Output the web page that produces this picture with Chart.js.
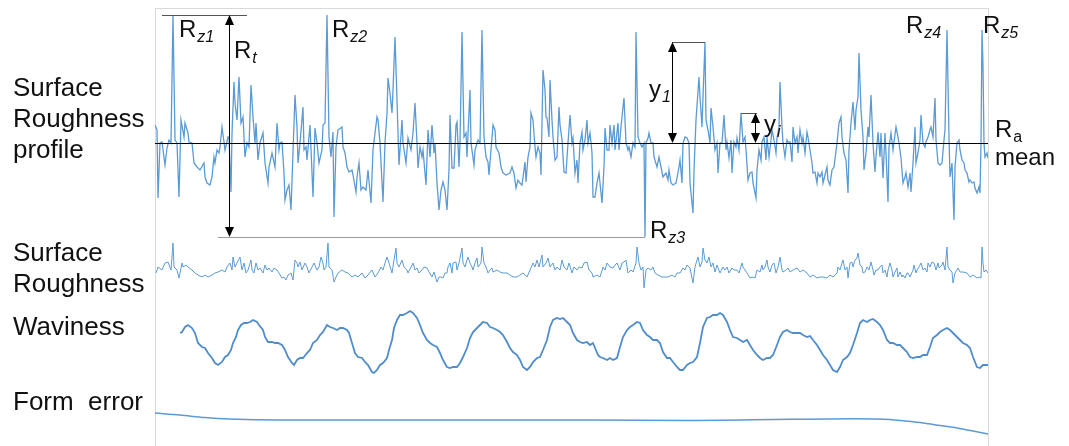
<!DOCTYPE html>
<html>
<head>
<meta charset="utf-8">
<script src="https://cdn.jsdelivr.net/npm/chart.js@4.4.1/dist/chart.umd.min.js"></script>
<style>
  html, body { margin: 0; padding: 0; background: #fff; }
  canvas { display: block; }
</style>
</head>
<body>
<canvas id="grafico" width="1069" height="446"></canvas>
<script>
// posicion a lo largo de la muestra (0..833) y altura respecto a la linea media
const perfilX = [0,2,3,5,7,10,12,14,16,18,20,22,24,26,29,30,33,34,37,39,42,45,49,50,52,55,57,59,60,62,64,65,67,69,70,73,74,76,77,79,80,82,84,86,88,90,92,94,96,98,100,101,103,105,108,110,113,114,117,120,122,124,125,127,129,130,132,134,136,
  140,142,143,145,148,149,151,152,155,158,160,162,164,167,168,170,172,174,176,178,179,181,183,187,188,190,192,194,197,198,201,202,204,206,208,211,213,216,218,220,222,223,225,228,230,232,233,235,237,238,240,242,244,247,248,251,253,256,258,260,262,263,265,267,268,271,273,
  275,277,279,280,282,284,286,288,290,292,294,295,297,299,301,302,304,305,307,309,311,312,315,316,319,320,323,325,327,329,331,333,334,336,338,340,341,344,346,348,351,355,357,359,361,363,365,367,370,371,373,375,376,378,380,381,383,385,386,388,390,391,392,394,395,397,398,400,402,404,405,407,409,411,413,415,
  417,418,420,422,423,425,427,428,430,432,433,435,437,438,440,442,444,445,447,449,450,452,454,455,457,459,460,463,464,466,468,469,471,473,474,476,478,480,481,483,485,487,489,490,491,493,494,496,498,499,502,504,506,508,511,513,514,516,518,521,524,525,527,528,530,532,534,535,538,539,541,544,545,547,548,550,551,553,
  555,556,558,560,562,563,565,567,569,571,572,574,576,577,579,581,582,584,586,588,590,591,593,595,597,598,601,602,604,606,607,609,611,612,614,616,617,619,621,622,624,625,627,628,630,632,633,635,637,638,640,642,643,645,647,648,650,652,653,655,657,658,660,662,663,665,667,668,670,672,673,675,677,679,682,684,686,687,
  689,691,693,694,696,698,700,701,703,704,706,708,709,711,713,714,716,718,720,721,723,725,726,728,730,731,733,734,736,738,739,741,743,744,746,748,750,751,753,755,756,758,760,761,763,765,766,768,770,771,773,775,776,778,780,781,783,785,787,789,790,792,794,795,797,799,800,802,804,805,807,809,810,812,814,815,817,819,820,822,824,825,826,827,828,829,830,832,833];
const perfilY = [18,13,-55,0,1,-22,-5,3,0,128,3,0,-54,23,6,20,10,1,0,-20,-24,-27,-20,-34,-40,-42,-34,-14,-20,-7,-10,-4,16,1,-7,6,6,-49,10,61,40,23,66,20,26,-14,0,-4,58,26,0,20,-17,0,10,-20,-40,-24,-10,-24,20,-7,0,1,-30,-57,-47,-42,-67,
  48,16,-20,0,36,-7,-4,-17,18,-54,15,0,-20,-7,18,20,128,6,-14,11,-74,-4,13,16,-4,-10,-24,-29,-27,-32,-49,-34,-20,-47,-44,-47,-27,-60,-7,10,26,23,0,-59,0,30,65,50,30,53,106,43,-22,23,0,-20,5,-7,10,40,0,-25,-4,-14,-7,-42,13,
  -14,18,-10,0,-40,-67,-47,-39,-47,-67,-27,28,-25,-25,18,21,-24,0,111,6,10,-14,53,0,-22,-7,3,0,113,6,-14,-19,-32,-7,18,13,-4,-10,-24,-30,-32,-30,-24,-30,-45,-37,-40,-42,-19,-39,-14,-4,30,23,-4,-14,-4,-10,-32,73,53,26,25,6,63,23,6,-17,-14,36,18,3,-29,-30,0,28,
  0,5,-30,-17,-40,0,11,-7,3,23,0,10,-10,-54,-54,-40,-30,-40,-60,-24,15,-7,-7,18,0,18,-7,20,-7,16,36,45,0,-7,-4,-14,0,-4,111,6,0,-4,0,-94,0,5,10,0,0,-14,-24,-14,-24,-34,-30,-37,-27,-40,-42,-40,-24,-17,-40,0,6,5,0,-40,-70,-27,23,66,46,16,46,101,23,13,
  0,35,16,-7,0,-30,0,0,28,-7,1,-15,3,-30,1,-4,5,-7,30,1,6,-7,-37,-30,-29,-40,-55,-27,-7,-17,1,6,-17,6,-14,3,13,3,-10,5,16,61,16,0,-14,3,1,1,-19,16,0,6,-10,13,0,6,-10,11,6,-7,-20,-30,-29,-40,-30,-34,-29,-40,-32,-24,-37,-42,-27,-24,0,20,26,6,
  -10,-17,-50,-7,20,41,13,33,46,90,33,6,-27,-10,16,6,48,0,-29,-14,11,-14,10,-35,10,-10,-59,-4,10,-7,1,16,6,0,-15,-40,-34,-30,-44,-30,-49,-20,16,-20,-10,3,28,0,-4,1,6,13,16,6,45,3,-20,-22,-20,3,13,113,6,-34,-20,-77,-24,0,3,-7,-17,-20,-27,-30,-39,-37,-40,-39,-45,-50,-44,-50,0,113,76,0,-14,-10,-15];

const rugosidadX = [1,3,7,10,13,16,18,19,22,24,27,28,31,33,37,40,43,47,50,53,57,60,63,67,70,72,75,77,78,80,82,85,87,89,91,93,96,97,99,101,103,105,108,110,112,114,117,119,122,124,127,129,131,133,136,138,140,142,143,145,147,150,152,154,157,159,162,164,166,168,169,171,173,174,177,179,181,183,187,190,193,197,200,203,207,210,213,217,220,223,226,228,230,232,234,237,239,241,242,244,247,249,252,253,256,258,260,262,264,267,269,272,274,277,279,282,284,286,288,290,292,293,295,297,298,301,302,304,307,308,310,312,313,315,317,318,320,322,323,326,327,329,331,333,335,337,338,342,345,348,352,355,358,362,365,368,372,375,378,380,382,384,387,388,391,393,395,398,400,402,405,407,409,412,414,417,419,422,424,427,429,432,434,437,438,442,445,
  448,450,452,455,458,460,462,465,467,469,471,473,476,478,481,482,484,486,488,489,491,493,496,498,500,503,507,510,513,517,520,522,525,528,530,532,535,538,540,542,543,545,547,548,550,552,554,556,558,560,562,565,568,570,572,574,577,579,582,584,587,588,590,592,595,598,600,602,605,607,608,610,612,613,615,617,619,621,623,625,627,628,631,633,635,638,642,645,648,652,655,658,662,665,668,672,675,678,682,683,685,687,688,690,692,693,695,697,698,700,702,703,705,707,708,710,712,714,716,718,719,721,723,724,727,728,730,732,733,735,737,738,740,742,743,745,747,748,750,752,753,755,758,759,761,762,764,766,768,770,772,773,775,777,779,781,783,784,787,788,790,792,793,795,797,798,800,802,803,805,808,812,815,818,822,824,826,827,828,829,831,833];
const rugosidadY = [-1,5,2,9,10,2,29,5,2,-6,9,5,7,5,2,-1,-3,-5,-3,-5,-3,-1,0,2,0,5,9,2,15,5,9,15,2,9,-1,2,12,2,-1,9,2,4,-1,7,2,4,0,4,2,-1,-6,-5,-8,-3,-1,-8,12,9,5,10,2,9,5,-1,5,9,2,5,15,9,2,5,29,5,2,-10,-5,-1,2,0,-1,-5,-3,-5,-1,-6,-3,2,-5,-1,5,2,9,15,9,-1,12,24,9,5,12,5,2,-1,5,9,2,4,-1,2,5,4,0,-5,0,-10,-5,-5,-6,-1,-1,5,9,-1,9,10,2,9,24,9,5,12,15,9,5,2,9,14,5,9,25,9,5,-1,2,4,0,2,0,-1,-1,-3,-5,-5,-3,-1,-5,2,9,5,12,5,17,5,9,14,5,9,2,5,2,12,5,2,9,-1,5,2,5,4,9,10,2,-1,-5,-3,-5,
  5,2,9,5,4,7,9,2,9,10,12,-1,2,0,9,25,9,2,5,-16,2,4,2,5,-1,-3,-5,-5,-5,-3,-5,-1,-1,4,2,7,4,-11,5,12,15,5,10,24,12,9,15,5,9,0,7,-1,5,2,5,-1,4,2,2,-1,9,5,2,-1,-6,-5,-6,2,0,7,2,5,12,5,0,7,9,-1,5,15,2,0,2,4,0,2,4,0,2,-1,-5,-3,-6,-5,-5,-6,-3,-5,-1,5,2,9,12,2,5,-6,9,10,5,12,14,19,7,5,-1,0,5,2,10,2,-3,2,2,4,7,-1,2,-5,2,9,2,-5,0,4,-5,0,-5,-3,-6,-1,-1,-5,2,7,-1,2,5,9,2,4,0,9,5,10,9,2,9,4,7,10,2,25,5,2,0,-11,-1,2,4,0,0,-1,-5,-3,-6,-5,-6,25,9,0,2,-1];

const ondulacionX = [25,27,30,33,37,40,43,47,50,53,57,60,63,67,70,73,76,78,81,83,86,89,92,95,98,102,104,108,110,113,117,120,123,127,130,133,137,139,142,145,148,152,155,158,162,165,168,172,175,178,182,185,188,192,194,197,200,203,207,210,213,217,219,222,225,228,232,234,237,239,242,245,248,252,255,258,262,265,268,272,275,278,282,285,288,292,295,298,302,305,308,312,315,318,322,325,328,332,335,338,342,345,348,352,355,358,362,365,368,372,375,378,382,385,388,392,395,398,402,405,408,412,415,418,422,425,428,432,435,438,443,
  445,448,452,455,458,462,465,468,472,475,478,482,485,488,492,495,498,502,505,508,512,515,518,522,525,528,532,535,538,542,545,548,552,555,558,562,565,568,572,575,578,582,585,588,592,595,598,602,605,608,612,615,618,622,625,628,632,635,638,642,645,648,652,655,658,662,665,668,672,675,678,682,685,688,692,695,698,702,705,708,712,715,718,722,725,728,732,735,738,742,745,748,752,755,758,762,765,768,772,775,778,782,785,788,792,795,798,802,805,808,812,815,818,822,825,828,833];
const ondulacionY = [12,13,18,20,17,12,2,-2,-3,-8,-13,-18,-20,-17,-12,-10,-5,2,8,15,20,22,22,23,25,23,20,15,8,3,3,2,2,0,-5,-12,-18,-20,-15,-13,-13,-8,-5,2,5,10,13,20,18,17,15,17,17,15,12,2,-8,-12,-13,-17,-20,-27,-28,-25,-20,-18,-13,-5,5,17,25,30,30,32,34,32,27,20,12,5,2,0,-2,-8,-15,-22,-23,-22,-22,-18,-12,-3,7,13,17,20,23,22,18,17,15,13,10,3,-3,-7,-10,-15,-22,-25,-22,-17,-13,-12,-5,5,18,25,27,26,27,23,20,12,5,3,2,3,0,2,-10,
  -12,-13,-15,-13,-15,-13,-2,8,15,18,20,23,22,15,10,8,5,5,2,-7,-13,-13,-17,-22,-25,-25,-20,-18,-17,-12,2,18,27,28,30,30,32,30,23,15,8,7,5,3,5,0,-5,-10,-13,-15,-13,-13,-10,0,8,13,15,13,12,12,12,10,8,9,5,0,-5,-10,-15,-20,-25,-27,-22,-15,-12,-8,0,12,22,25,23,25,26,23,20,15,5,2,2,0,0,-3,-7,-12,-13,-12,-12,-10,-10,-2,7,10,13,15,17,15,12,8,5,2,0,-3,-12,-22,-23,-20,-20];

const formaX = [0,25,50,75,125,200,300,350,435,535,635,700,735,750,768,785,802,818,833];
const formaY = [7,5,2.5,1,0,0,0,0,0,-0.5,0.7,1.2,0.5,-1,-3,-5.5,-8,-11,-14];

const etiquetasFilas = [['Surface', 'Roughness', 'profile'], ['Surface', 'Roughness'], ['Waviness'], ['Form  error']];

// textos de las marcas sobre el perfil: [principal, subindice, cursiva, posicion, altura]
const marcas = [
  ['R', 'z1', true, 24, 106],
  ['R', 't', true, 79, 85],
  ['R', 'z2', true, 177, 106],
  ['R', 'z3', true, 495, -95],
  ['R', 'z4', true, 751, 110],
  ['R', 'z5', true, 828, 110],
  ['y', '1', true, 494, 46],
  ['y', 'i', true, 609, 11],
  ['R', 'a', false, 840, 6],
  ['mean', '', false, 840, -22]
];

const AZUL = '#5b9bd5';
const FUENTE = '"Liberation Sans", Arial, sans-serif';

function puntos(xs, ys) {
  return xs.map((x, i) => ({ x: x, y: ys[i] }));
}

function flecha(ctx, x, y1, y2) {
  ctx.beginPath();
  ctx.moveTo(x + 0.5, y1 + 6);
  ctx.lineTo(x + 0.5, y2 - 6);
  ctx.stroke();
  ctx.beginPath();
  ctx.moveTo(x + 0.5, y1);
  ctx.lineTo(x - 4, y1 + 10);
  ctx.lineTo(x + 5, y1 + 10);
  ctx.closePath();
  ctx.fill();
  ctx.beginPath();
  ctx.moveTo(x + 0.5, y2);
  ctx.lineTo(x - 4, y2 - 10);
  ctx.lineTo(x + 5, y2 - 10);
  ctx.closePath();
  ctx.fill();
}

const marco = {
  id: 'marco',
  beforeDatasetsDraw(chart) {
    const { ctx, chartArea } = chart;
    ctx.save();
    ctx.strokeStyle = '#d9d9d9';
    ctx.lineWidth = 1;
    ctx.beginPath();
    ctx.moveTo(chartArea.left + 0.5, chartArea.top);
    ctx.lineTo(chartArea.left + 0.5, chartArea.bottom);
    ctx.moveTo(chartArea.right + 0.5, chartArea.top);
    ctx.lineTo(chartArea.right + 0.5, chartArea.bottom);
    ctx.moveTo(chartArea.left, chartArea.top + 0.5);
    ctx.lineTo(chartArea.right, chartArea.top + 0.5);
    ctx.stroke();

    // etiquetas de cada fila
    ctx.fillStyle = '#111';
    ctx.font = '26px ' + FUENTE;
    ctx.textBaseline = 'alphabetic';
    const bases = [96, 261, 335, 410];
    etiquetasFilas.forEach((lineas, i) => {
      lineas.forEach((t, j) => ctx.fillText(t, 13, bases[i] + j * 31));
    });
    ctx.restore();
  },
  afterDatasetsDraw(chart) {
    const { ctx, chartArea } = chart;
    const sx = chart.scales.x;
    const sy = chart.scales.yPerfil;
    const px = v => Math.round(sx.getPixelForValue(v));
    const py = v => Math.round(sy.getPixelForValue(v));
    const alto = Math.max(...perfilY);
    const bajo = Math.min(...perfilY);
    ctx.save();
    ctx.lineWidth = 1;

    // linea media
    ctx.strokeStyle = '#000';
    ctx.beginPath();
    ctx.moveTo(chartArea.left, py(0) + 0.5);
    ctx.lineTo(chartArea.right, py(0) + 0.5);
    ctx.stroke();

    // Rt
    ctx.strokeStyle = '#555';
    ctx.beginPath();
    ctx.moveTo(px(7), py(alto) + 0.5);
    ctx.lineTo(px(92), py(alto) + 0.5);
    ctx.stroke();
    ctx.strokeStyle = '#9a9a9a';
    ctx.beginPath();
    ctx.moveTo(px(63), py(bajo) + 0.5);
    ctx.lineTo(px(490), py(bajo) + 0.5);
    ctx.stroke();
    ctx.strokeStyle = '#000';
    ctx.fillStyle = '#000';
    flecha(ctx, px(74), py(alto), py(bajo));

    // y1
    ctx.strokeStyle = '#555';
    ctx.beginPath();
    ctx.moveTo(px(517), py(101) + 0.5);
    ctx.lineTo(px(550), py(101) + 0.5);
    ctx.stroke();
    ctx.strokeStyle = '#000';
    flecha(ctx, px(517), py(101), py(0));

    // yi
    ctx.strokeStyle = '#555';
    ctx.beginPath();
    ctx.moveTo(px(586), py(30) + 0.5);
    ctx.lineTo(px(602), py(30) + 0.5);
    ctx.stroke();
    ctx.strokeStyle = '#000';
    flecha(ctx, px(600), py(30), py(0));

    // textos
    ctx.fillStyle = '#111';
    ctx.textBaseline = 'alphabetic';
    marcas.forEach(([t, sub, cursiva, x, y]) => {
      ctx.font = '24px ' + FUENTE;
      ctx.fillText(t, px(x), py(y));
      if (sub) {
        const w = ctx.measureText(t).width;
        ctx.font = (cursiva ? 'italic ' : '') + '16px ' + FUENTE;
        ctx.fillText(sub, px(x) + w + 1, py(y) + 5);
      }
    });
    ctx.restore();
  }
};

const ctx = document.getElementById('grafico').getContext('2d');
new Chart(ctx, {
  type: 'line',
  data: {
    datasets: [
      { label: 'Surface Roughness profile', data: puntos(perfilX, perfilY), yAxisID: 'yPerfil', borderColor: AZUL, borderWidth: 1.3 },
      { label: 'Surface Roughness', data: puntos(rugosidadX, rugosidadY), yAxisID: 'yRugosidad', borderColor: AZUL, borderWidth: 1 },
      { label: 'Waviness', data: puntos(ondulacionX, ondulacionY), yAxisID: 'yOndulacion', borderColor: '#4f8ccb', borderWidth: 1.8 },
      { label: 'Form error', data: puntos(formaX, formaY), yAxisID: 'yForma', borderColor: AZUL, borderWidth: 1.5, cubicInterpolationMode: 'monotone' }
    ]
  },
  options: {
    responsive: false,
    animation: false,
    elements: { point: { radius: 0 }, line: { tension: 0 } },
    layout: { padding: { left: 155, right: 81, top: 8, bottom: 0 } },
    plugins: { legend: { display: false }, tooltip: { enabled: false } },
    scales: {
      x: { type: 'linear', min: 0, max: 833, display: false },
      yPerfil: { type: 'linear', min: -303, max: 135, display: false },
      yRugosidad: { type: 'linear', min: -174, max: 264, display: false },
      yOndulacion: { type: 'linear', min: -101, max: 337, display: false },
      yForma: { type: 'linear', min: -26, max: 412, display: false }
    }
  },
  plugins: [marco]
});
</script>
</body>
</html>
